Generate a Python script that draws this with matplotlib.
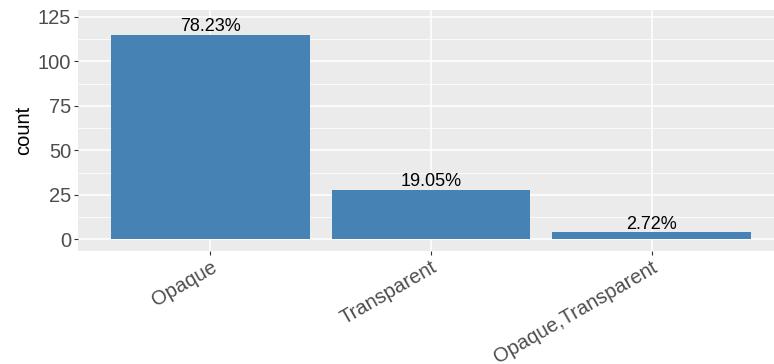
import matplotlib as mpl
import matplotlib.pyplot as plt
from matplotlib.ticker import MultipleLocator

mpl.use("Agg")

categories = ["Opaque", "Transparent", "Opaque,Transparent"]
counts = [115, 28, 4]
pct_labels = ["78.23%", "19.05%", "2.72%"]

plt.rcParams["font.family"] = ["Liberation Sans", "DejaVu Sans"]

fig = plt.figure(figsize=(7.74, 3.64), dpi=100)
ax = fig.add_axes([78 / 774, 1 - 251 / 364, 706 / 774, 241 / 364])

ax.set_facecolor("#EBEBEB")
for side in ax.spines.values():
    side.set_visible(False)

positions = list(range(1, len(categories) + 1))
ax.bar(positions, counts, width=0.9, color="#4682B4", zorder=2)

# percentage labels just above each bar
for x, c, lab in zip(positions, counts, pct_labels):
    ax.annotate(lab, (x, c), xytext=(0, -0.5), textcoords="offset points",
                ha="center", va="bottom", fontsize=13, color="black", zorder=3)

ax.set_xlim(0.4, 3.6)
ax.set_ylim(-6.5, 128.8)
ax.yaxis.set_major_locator(MultipleLocator(25))
ax.yaxis.set_minor_locator(MultipleLocator(12.5))
ax.set_xticks(positions)
ax.set_xticklabels(categories, rotation=30, ha="right", rotation_mode="anchor")

ax.grid(which="major", color="white", linewidth=1.1, zorder=0)
ax.grid(which="minor", axis="y", color="white", linewidth=0.55, zorder=0)
ax.set_axisbelow(True)

ax.tick_params(axis="both", which="major", length=3, width=0.8, color="#333333",
               labelcolor="#4D4D4D", labelsize=14.5, pad=2)
ax.tick_params(axis="y", which="minor", length=0)
ax.set_ylabel("count", fontsize=14.5, color="black", labelpad=3)

fig.savefig("out.png", dpi=100)
plt.close(fig)
